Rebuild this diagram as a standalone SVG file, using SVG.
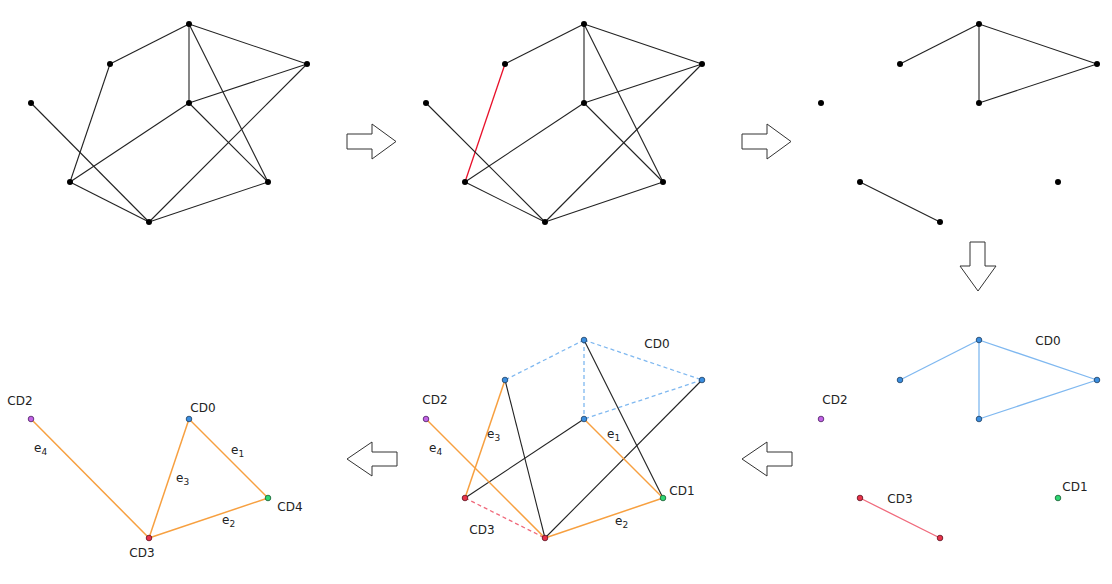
<svg xmlns="http://www.w3.org/2000/svg" width="1112" height="584" viewBox="0 0 1112 584">
<style>
.e{stroke:#222;stroke-width:1.1;fill:none}
.r{stroke:#e8102a;stroke-width:1.3}
.b{stroke:#7fb8f0;stroke-width:1.3}
.bd{stroke:#7fb8f0;stroke-width:1.3;stroke-dasharray:4,3}
.rl{stroke:#f06a7c;stroke-width:1.3}
.rd{stroke:#f06a7c;stroke-width:1.3;stroke-dasharray:4,3}
.o{stroke:#f7a040;stroke-width:1.5}
.k{stroke:#222;stroke-width:1.1}
.n{fill:#000}
.nb{fill:#3a8ee0;stroke:#1e3d60;stroke-width:0.8}
.np{fill:#c263e6;stroke:#4a2060;stroke-width:0.8}
.nr{fill:#e8334a;stroke:#5a1020;stroke-width:0.8}
.ng{fill:#2fd672;stroke:#155a30;stroke-width:0.8}
.t{font-family:"DejaVu Sans",Verdana,sans-serif;font-size:12px;fill:#222}
.ar{fill:#fff;stroke:#333;stroke-width:1}
</style>
<g id="connectors">
<g id="p1-edges" class="e">
<line x1="189" y1="24" x2="110" y2="64"/><line x1="189" y1="24" x2="307" y2="64"/><line x1="189" y1="24" x2="189" y2="103"/><line x1="189" y1="24" x2="268" y2="182"/><line x1="307" y1="64" x2="189" y2="103"/><line x1="307" y1="64" x2="149" y2="222"/><line x1="110" y1="64" x2="70" y2="182"/><line x1="31" y1="103" x2="149" y2="222"/><line x1="189" y1="103" x2="70" y2="182"/><line x1="189" y1="103" x2="268" y2="182"/><line x1="70" y1="182" x2="149" y2="222"/><line x1="149" y1="222" x2="268" y2="182"/>
</g>
<g id="p2-edges" class="e">
<line x1="584" y1="24" x2="505" y2="64"/><line x1="584" y1="24" x2="702" y2="64"/><line x1="584" y1="24" x2="584" y2="103"/><line x1="584" y1="24" x2="663" y2="182"/><line x1="702" y1="64" x2="584" y2="103"/><line x1="702" y1="64" x2="545" y2="222"/><line class="r" x1="505" y1="64" x2="465" y2="182"/><line x1="426" y1="103" x2="545" y2="222"/><line x1="584" y1="103" x2="465" y2="182"/><line x1="584" y1="103" x2="663" y2="182"/><line x1="465" y1="182" x2="545" y2="222"/><line x1="545" y1="222" x2="663" y2="182"/>
</g>
<g id="p3-edges" class="e">
<line x1="979" y1="24" x2="900" y2="64"/><line x1="979" y1="24" x2="1097" y2="64"/><line x1="979" y1="24" x2="979" y2="103"/><line x1="1097" y1="64" x2="979" y2="103"/><line x1="860" y1="182" x2="940" y2="222"/>
</g>
<g id="p4-edges">
<line class="b" x1="979" y1="340" x2="900" y2="380"/><line class="b" x1="979" y1="340" x2="1097" y2="380"/><line class="b" x1="979" y1="340" x2="979" y2="419"/><line class="b" x1="1097" y1="380" x2="979" y2="419"/><line class="rl" x1="860" y1="498" x2="940" y2="538"/>
</g>
<g id="p5-edges">
<line class="bd" x1="584" y1="340" x2="505" y2="380"/><line class="bd" x1="584" y1="340" x2="702" y2="380"/><line class="bd" x1="584" y1="340" x2="584" y2="419"/><line class="bd" x1="702" y1="380" x2="584" y2="419"/><line class="rd" x1="465" y1="498" x2="545" y2="538"/>
<line class="k" x1="505" y1="380" x2="545" y2="538"/><line class="k" x1="584" y1="340" x2="663" y2="498"/><line class="k" x1="702" y1="380" x2="545" y2="538"/><line class="k" x1="584" y1="419" x2="465" y2="498"/>
<line class="o" x1="505" y1="380" x2="465" y2="498"/><line class="o" x1="584" y1="419" x2="663" y2="498"/><line class="o" x1="545" y1="538" x2="663" y2="498"/><line class="o" x1="426" y1="419" x2="545" y2="538"/>
</g>
<g id="p6-edges">
<line class="o" x1="31" y1="419" x2="149" y2="538"/><line class="o" x1="189" y1="419" x2="149" y2="538"/><line class="o" x1="189" y1="419" x2="268" y2="498"/><line class="o" x1="149" y1="538" x2="268" y2="498"/>
</g>
</g>
<g id="p1-nodes" class="n">
<circle cx="189" cy="24" r="3"/><circle cx="110" cy="64" r="3"/><circle cx="307" cy="64" r="3"/><circle cx="31" cy="103" r="3"/><circle cx="189" cy="103" r="3"/><circle cx="70" cy="182" r="3"/><circle cx="268" cy="182" r="3"/><circle cx="149" cy="222" r="3"/>
</g>
<g id="p2-nodes" class="n">
<circle cx="584" cy="24" r="3"/><circle cx="505" cy="64" r="3"/><circle cx="702" cy="64" r="3"/><circle cx="426" cy="103" r="3"/><circle cx="584" cy="103" r="3"/><circle cx="465" cy="182" r="3"/><circle cx="663" cy="182" r="3"/><circle cx="545" cy="222" r="3"/>
</g>
<g id="p3-nodes" class="n">
<circle cx="979" cy="24" r="3"/><circle cx="900" cy="64" r="3"/><circle cx="1097" cy="64" r="3"/><circle cx="821" cy="103" r="3"/><circle cx="979" cy="103" r="3"/><circle cx="860" cy="182" r="3"/><circle cx="1058" cy="182" r="3"/><circle cx="940" cy="222" r="3"/>
</g>
<g id="p4-nodes">
<circle class="nb" cx="979" cy="340" r="2.8"/><circle class="nb" cx="900" cy="380" r="2.8"/><circle class="nb" cx="1097" cy="380" r="2.8"/><circle class="np" cx="821" cy="419" r="2.8"/><circle class="nb" cx="979" cy="419" r="2.8"/><circle class="nr" cx="860" cy="498" r="2.8"/><circle class="ng" cx="1058" cy="498" r="2.8"/><circle class="nr" cx="940" cy="538" r="2.8"/>
<text class="t" x="1048" y="345" text-anchor="middle">CD0</text><text class="t" x="835" y="404" text-anchor="middle">CD2</text><text class="t" x="900" y="503" text-anchor="middle">CD3</text><text class="t" x="1075" y="491" text-anchor="middle">CD1</text>
</g>
<g id="p5-nodes">
<circle class="nb" cx="584" cy="340" r="2.8"/><circle class="nb" cx="505" cy="380" r="2.8"/><circle class="nb" cx="702" cy="380" r="2.8"/><circle class="np" cx="426" cy="419" r="2.8"/><circle class="nb" cx="584" cy="419" r="2.8"/><circle class="nr" cx="465" cy="498" r="2.8"/><circle class="ng" cx="663" cy="498" r="2.8"/><circle class="nr" cx="545" cy="538" r="2.8"/>
<text class="t" x="657" y="348" text-anchor="middle">CD0</text><text class="t" x="435" y="404" text-anchor="middle">CD2</text><text class="t" x="682" y="495" text-anchor="middle">CD1</text><text class="t" x="482" y="534" text-anchor="middle">CD3</text>
<text class="t" x="487" y="438">e<tspan font-size="9" dy="3">3</tspan></text>
<text class="t" x="429" y="452">e<tspan font-size="9" dy="3">4</tspan></text>
<text class="t" x="607" y="438">e<tspan font-size="9" dy="3">1</tspan></text>
<text class="t" x="615" y="525">e<tspan font-size="9" dy="3">2</tspan></text>
</g>
<g id="p6-nodes">
<circle class="np" cx="31" cy="419" r="2.8"/><circle class="nb" cx="189" cy="419" r="2.8"/><circle class="ng" cx="268" cy="498" r="2.8"/><circle class="nr" cx="149" cy="538" r="2.8"/>
<text class="t" x="20" y="405" text-anchor="middle">CD2</text><text class="t" x="203" y="412" text-anchor="middle">CD0</text><text class="t" x="290" y="511" text-anchor="middle">CD4</text><text class="t" x="142" y="557" text-anchor="middle">CD3</text>
<text class="t" x="231" y="454">e<tspan font-size="9" dy="3">1</tspan></text>
<text class="t" x="176" y="482">e<tspan font-size="9" dy="3">3</tspan></text>
<text class="t" x="34" y="452">e<tspan font-size="9" dy="3">4</tspan></text>
<text class="t" x="222" y="524">e<tspan font-size="9" dy="3">2</tspan></text>
</g>
<g id="arrows">
<polygon class="ar" points="347,134 372,134 372,124 396,141.5 372,159 372,149 347,149"/>
<polygon class="ar" points="742,134 767,134 767,124 791,141.5 767,159 767,149 742,149"/>
<polygon class="ar" points="970,242 985,242 985,266 996,266 978,291 960,266 970,266"/>
<polygon class="ar" points="347,459 372,442 372,452 397,452 397,466 372,466 372,476"/>
<polygon class="ar" points="742,459 767,442 767,452 792,452 792,466 767,466 767,476"/>
</g>
</svg>
